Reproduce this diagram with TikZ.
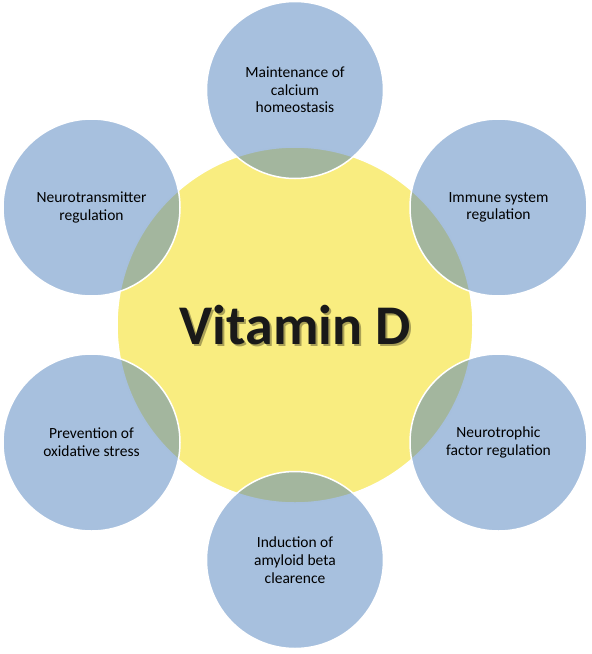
\documentclass[tikz,border=0pt]{standalone}
\usepackage{fontspec}
\setmainfont{Carlito}
\usetikzlibrary{positioning}
\definecolor{bubbleblue}{HTML}{4F81BD}
\definecolor{hubyellow}{HTML}{F9ED80}

\begin{document}
\begin{tikzpicture}[x=1pt, y=-1pt,
        hub/.style={circle, fill=hubyellow, draw=white, line width=1.5pt, minimum size=356pt, inner sep=0pt},
        bubble/.style={circle, fill=bubbleblue, fill opacity=0.5, text opacity=1, draw=white, draw opacity=1,
            line width=1.5pt, minimum size=177pt, inner sep=0pt, align=center, text=black,
            font=\fontsize{15.5}{17.7}\selectfont},
        title/.style={font=\fontsize{56}{60}\selectfont\bfseries}]
    \useasboundingbox (0,0) rectangle (592,654);
    \node[hub] (vitd) at (295,325) {};
    \node[title, text=black!40!hubyellow!60!black, opacity=0.5] (vitdshadow) at (297,327) {Vitamin D};
    \node[title, text=black!90] (vitdtext) at (295,325) {Vitamin D};
    \node[bubble] (calcium) at (295,90) {Maintenance of\\calcium\\homeostasis};
    \node[bubble] (immune) at (498.5,207.5) {Immune system\\regulation};
    \node[bubble] (neurotrophic) at (498.5,442.5) {Neurotrophic\\factor regulation};
    \node[bubble] (amyloid) at (295,560) {Induction of\\amyloid beta\\clearence};
    \node[bubble] (oxidative) at (91.5,442.5) {Prevention of\\oxidative stress};
    \node[bubble] (transmitter) at (91.5,207.5) {Neurotransmitter\\regulation};
    %\draw[red] (vitd) circle (178);
\end{tikzpicture}
\end{document}
